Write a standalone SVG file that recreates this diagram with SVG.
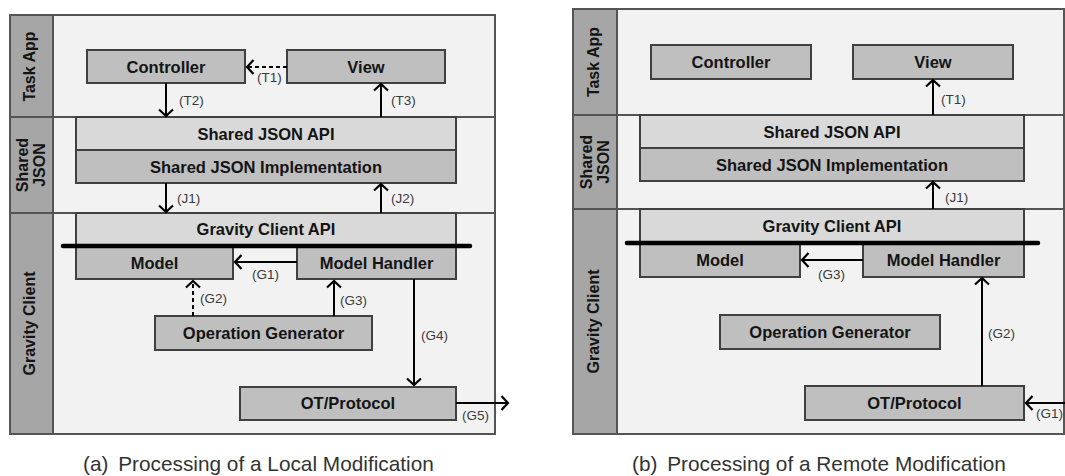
<svg xmlns="http://www.w3.org/2000/svg" width="1065" height="476" viewBox="0 0 1065 476">
  <style>
    .bg { fill: #ffffff; }
    .row { fill: #f2f2f2; stroke: #555555; stroke-width: 2; }
    .side { fill: #a6a6a6; stroke: #555555; stroke-width: 2; }
    .box { fill: #bfbfbf; stroke: #404040; stroke-width: 2; }
    .api { fill: #d9d9d9; stroke: #404040; stroke-width: 2; }
    .bar { stroke: #000000; stroke-width: 4.5; stroke-linecap: round; }
    .t { font-family: "Liberation Sans", Arial, sans-serif; font-weight: bold; font-size: 16.5px; fill: #141414; text-anchor: middle; }
    .sl { font-family: "Liberation Sans", Arial, sans-serif; font-weight: bold; font-size: 16px; fill: #141414; text-anchor: middle; }
    .lbl { font-family: "Liberation Sans", Arial, sans-serif; font-size: 13.5px; fill: #3a3a3a; }
    .cap { font-family: "Liberation Sans", Arial, sans-serif; font-size: 20.8px; fill: #333333; }
    .arr { stroke: #000000; stroke-width: 2; fill: none; marker-end: url(#ah); }
    .dash { stroke-dasharray: 4 3; }
  </style>
  <defs>
    <marker id="ah" markerUnits="userSpaceOnUse" viewBox="0 0 10 16" markerWidth="10" markerHeight="16" refX="8" refY="8" orient="auto">
      <path d="M1.5,1 L8,8 L1.5,15" fill="none" stroke="#000000" stroke-width="2.2"/>
    </marker>
  </defs>
  <rect class="bg" x="0" y="0" width="1065" height="476"/>

  <!-- ===== (a) local modification ===== -->
  <g id="a-layers">
    <rect class="row" x="53" y="15" width="442" height="102"/>
    <rect class="row" x="53" y="117" width="442" height="96"/>
    <rect class="row" x="53" y="213" width="442" height="221"/>
    <rect class="side" x="10" y="15" width="43" height="102"/>
    <rect class="side" x="10" y="117" width="43" height="96"/>
    <rect class="side" x="10" y="213" width="43" height="221"/>
    <text class="sl" transform="translate(35,66.5) rotate(-90)">Task App</text>
    <text class="sl" transform="translate(28,165) rotate(-90)">Shared</text>
    <text class="sl" transform="translate(45,165) rotate(-90)">JSON</text>
    <text class="sl" transform="translate(35,323.5) rotate(-90)">Gravity Client</text>
  </g>

  <g id="a-controller"><rect class="box" x="87" y="50" width="158" height="33"/><text class="t" x="166" y="72.5">Controller</text></g>
  <g id="a-view"><rect class="box" x="287" y="50" width="158" height="33"/><text class="t" x="366" y="72.5">View</text></g>
  <g id="a-json-api"><rect class="api" x="76" y="117" width="380" height="33"/><text class="t" x="266" y="139.5">Shared JSON API</text></g>
  <g id="a-json-impl"><rect class="box" x="76" y="150" width="380" height="33"/><text class="t" x="266" y="172.5">Shared JSON Implementation</text></g>
  <g id="a-client-api"><rect class="api" x="76" y="213" width="380" height="33"/><text class="t" x="266" y="235">Gravity Client API</text></g>
  <g id="a-model"><rect class="box" x="76" y="246" width="157" height="33"/><text class="t" x="154.5" y="268.5">Model</text></g>
  <g id="a-model-handler"><rect class="box" x="297" y="246" width="159" height="33"/><text class="t" x="376.5" y="268.5">Model Handler</text></g>
  <g id="a-op-gen"><rect class="box" x="155" y="316" width="217" height="34"/><text class="t" x="263.5" y="339">Operation Generator</text></g>
  <g id="a-ot"><rect class="box" x="240" y="387" width="216" height="33"/><text class="t" x="348" y="409">OT/Protocol</text></g>
  <line class="bar" x1="63" y1="246" x2="470" y2="246"/>

  <g id="a-connectors">
    <line class="arr dash" x1="287" y1="67" x2="247" y2="67"/>
    <text class="lbl" x="257" y="82">(T1)</text>
    <line class="arr" x1="166" y1="83" x2="166" y2="116"/>
    <text class="lbl" x="179" y="105">(T2)</text>
    <line class="arr" x1="381" y1="117" x2="381" y2="84"/>
    <text class="lbl" x="391" y="105">(T3)</text>
    <line class="arr" x1="166" y1="183" x2="166" y2="212"/>
    <text class="lbl" x="177" y="203">(J1)</text>
    <line class="arr" x1="381" y1="213" x2="381" y2="184"/>
    <text class="lbl" x="391" y="203">(J2)</text>
    <line class="arr" x1="297" y1="262" x2="235" y2="262"/>
    <text class="lbl" x="252" y="279">(G1)</text>
    <line class="arr dash" x1="193" y1="316" x2="193" y2="281"/>
    <text class="lbl" x="200" y="303">(G2)</text>
    <line class="arr" x1="334" y1="316" x2="334" y2="281"/>
    <text class="lbl" x="340" y="305">(G3)</text>
    <line class="arr" x1="414" y1="279" x2="414" y2="385"/>
    <text class="lbl" x="421" y="340">(G4)</text>
    <line class="arr" x1="456" y1="403" x2="508" y2="403"/>
    <text class="lbl" x="462" y="420">(G5)</text>
  </g>

  <text class="cap" x="83" y="471">(a) <tspan dx="4">Processing of a Local Modification</tspan></text>

  <!-- ===== (b) remote modification ===== -->
  <g id="b-layers">
    <rect class="row" x="617" y="9" width="447" height="106"/>
    <rect class="row" x="617" y="115" width="447" height="94"/>
    <rect class="row" x="617" y="209" width="447" height="225"/>
    <rect class="side" x="573" y="9" width="44" height="106"/>
    <rect class="side" x="573" y="115" width="44" height="94"/>
    <rect class="side" x="573" y="209" width="44" height="225"/>
    <text class="sl" transform="translate(599,62) rotate(-90)">Task App</text>
    <text class="sl" transform="translate(591.5,162) rotate(-90)">Shared</text>
    <text class="sl" transform="translate(608.5,162) rotate(-90)">JSON</text>
    <text class="sl" transform="translate(599,321.5) rotate(-90)">Gravity Client</text>
  </g>

  <g id="b-controller"><rect class="box" x="651" y="45" width="160" height="34"/><text class="t" x="731" y="68">Controller</text></g>
  <g id="b-view"><rect class="box" x="853" y="45" width="160" height="34"/><text class="t" x="933" y="68">View</text></g>
  <g id="b-json-api"><rect class="api" x="640" y="115" width="384" height="33"/><text class="t" x="832" y="137.5">Shared JSON API</text></g>
  <g id="b-json-impl"><rect class="box" x="640" y="148" width="384" height="33"/><text class="t" x="832" y="170.5">Shared JSON Implementation</text></g>
  <g id="b-client-api"><rect class="api" x="640" y="209" width="384" height="34"/><text class="t" x="832" y="232">Gravity Client API</text></g>
  <g id="b-model"><rect class="box" x="640" y="243" width="160" height="34"/><text class="t" x="720" y="265.5">Model</text></g>
  <g id="b-model-handler"><rect class="box" x="863" y="243" width="161" height="34"/><text class="t" x="943.5" y="265.5">Model Handler</text></g>
  <g id="b-op-gen"><rect class="box" x="720" y="315" width="220" height="34"/><text class="t" x="830" y="338">Operation Generator</text></g>
  <g id="b-ot"><rect class="box" x="805" y="386" width="219" height="34"/><text class="t" x="914.5" y="408.5">OT/Protocol</text></g>
  <line class="bar" x1="627" y1="243" x2="1038" y2="243"/>

  <g id="b-connectors">
    <line class="arr" x1="933" y1="115" x2="933" y2="80"/>
    <text class="lbl" x="941" y="104">(T1)</text>
    <line class="arr" x1="933" y1="209" x2="933" y2="182"/>
    <text class="lbl" x="945" y="202">(J1)</text>
    <line class="arr" x1="863" y1="260" x2="802" y2="260"/>
    <text class="lbl" x="818" y="279">(G3)</text>
    <line class="arr" x1="982" y1="386" x2="982" y2="278"/>
    <text class="lbl" x="988" y="338">(G2)</text>
    <line class="arr" x1="1066" y1="403" x2="1026" y2="403"/>
    <text class="lbl" x="1036" y="418">(G1)</text>
  </g>

  <text class="cap" x="632" y="471">(b) <tspan dx="4">Processing of a Remote Modification</tspan></text>
</svg>
